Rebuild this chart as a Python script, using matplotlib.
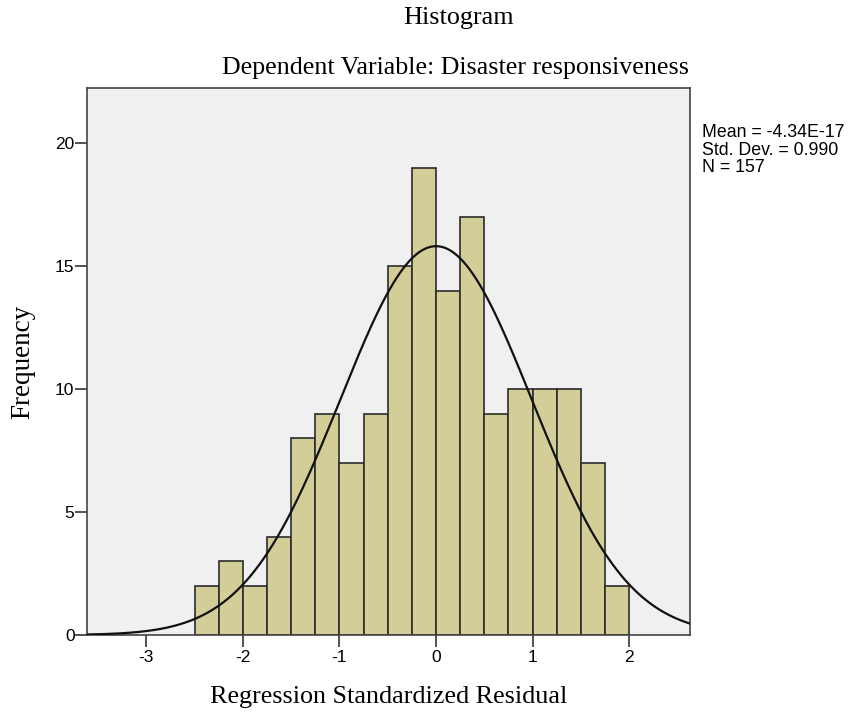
import numpy as np
import matplotlib
matplotlib.use("Agg")
import matplotlib.pyplot as plt

bin_edges = [-2.5, -2.25, -2.0, -1.75, -1.5, -1.25, -1.0, -0.75, -0.5, -0.25,
             0.0, 0.25, 0.5, 0.75, 1.0, 1.25, 1.5, 1.75, 2.0]
counts = [2, 3, 2, 4, 8, 9, 7, 9, 15, 19, 14, 17, 9, 10, 10, 10, 7, 2]
mean = -4.34e-17
std = 0.990
n = 157
xticks = [-3, -2, -1, 0, 1, 2]
yticks = [0, 5, 10, 15, 20]

serif = ['Liberation Serif', 'DejaVu Serif']
sans = ['Liberation Sans', 'DejaVu Sans']

fig = plt.figure(figsize=(8.51, 7.15), dpi=100)
ax = fig.add_axes([87/851, 1-635/715, 603/851, 547/715])
ax.set_facecolor('#F0F0F0')

edges = np.array(bin_edges)
ax.bar(edges[:-1], counts, width=np.diff(edges), align='edge',
       color='#D3CE97', edgecolor='#2b2b2b', linewidth=1.2, zorder=2)

xmin, xmax = -3.615, 2.63
xs = np.linspace(xmin, xmax, 400)
bw = edges[1] - edges[0]
ys = n * bw / (std * np.sqrt(2 * np.pi)) * np.exp(-0.5 * ((xs - mean) / std) ** 2)
ax.plot(xs, ys, color='#111111', linewidth=1.6, zorder=3)

ax.set_xlim(xmin, xmax)
ax.set_ylim(0, 22.25)
ax.set_xticks(xticks)
ax.set_xticklabels([str(t) for t in xticks], fontfamily=sans, fontsize=12.5)
ax.set_yticks(yticks)
ax.set_yticklabels([str(t) for t in yticks], fontfamily=sans, fontsize=12.5)
ax.tick_params(direction='out', length=8.5, width=1.2, color='#333333')
ax.tick_params(axis='y', pad=0.5)
ax.tick_params(axis='x', pad=2)
for s in ax.spines.values():
    s.set_linewidth(1.2)
    s.set_color('#444444')

ax.set_xlabel('Regression Standardized Residual', fontfamily=serif, fontsize=18.8, labelpad=15.5)
ax.set_ylabel('Frequency', fontfamily=serif, fontsize=19.5, labelpad=14)

fig.text(458/851, 1-18/715, 'Histogram', fontfamily=serif, fontsize=18.8,
         ha='center', va='center')
fig.text(456/851, 1-68/715, 'Dependent Variable: Disaster responsiveness',
         fontfamily=serif, fontsize=18.7, ha='center', va='center')
fig.text(702/851, 1-124/715, 'Mean = -4.34E-17\nStd. Dev. = 0.990\nN = 157',
         fontfamily=sans, fontsize=12.8, ha='left', va='top', linespacing=1.05)

fig.savefig('out.png', dpi=100)
